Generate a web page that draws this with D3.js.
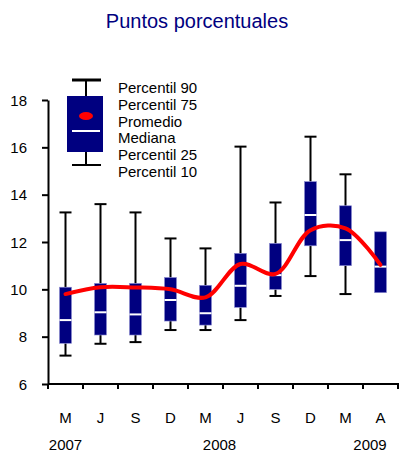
<!DOCTYPE html>
<html lang="es">
<head>
<meta charset="UTF-8">
<title>Puntos porcentuales</title>
<script src="https://d3js.org/d3.v7.min.js"></script>
<style>
    body { margin: 0; background: #fff; }
    svg { display: block; font-family: "Liberation Sans", Arial, sans-serif; }
    .axis path, .axis line { stroke: #000; stroke-width: 2px; }
    .axis text { font-size: 15px; fill: #000; }
</style>
</head>
<body>
<svg width="399" height="454"></svg>
<script>
// data
const months = ["M", "J", "S", "D", "M", "J", "S", "D", "M", "A"];
const years = [{ label: "2007", at: 0.5 }, { label: "2008", at: 4.9 }, { label: "2009", at: 9.2 }];
const p90 = [13.25, 13.6, 13.25, 12.15, 11.73, 16.03, 13.67, 16.45, 14.86, null];
const p75 = [10.09, 10.25, 10.25, 10.5, 10.17, 11.52, 11.94, 14.55, 13.53, 12.43];
const median = [8.7, 9.03, 8.94, 9.55, 8.99, 10.15, 10.6, 13.14, 12.08, 10.96];
const p25 = [7.72, 8.07, 8.07, 8.66, 8.49, 9.24, 10.0, 11.84, 11.0, 9.86];
const p10 = [7.2, 7.7, 7.77, 8.28, 8.28, 8.7, 9.72, 10.56, 9.8, null];
const mean = [9.8, 10.09, 10.08, 10.0, 9.66, 11.07, 10.65, 12.5, 12.58, 11.03];
const yTicks = [6, 8, 10, 12, 14, 16, 18];
const legendLabels = ["Percentil 90", "Percentil 75", "Promedio", "Mediana", "Percentil 25", "Percentil 10"];

const navy = "#000080";
const svg = d3.select("svg");

const x = d3.scaleBand().domain(d3.range(months.length)).range([48, 398]);
const y = d3.scaleLinear().domain([6, 18]).range([384, 100]);
const bw = 12;

// title
svg.append("text")
    .attr("x", 197).attr("y", 28)
    .attr("text-anchor", "middle")
    .attr("font-size", 20)
    .attr("fill", navy)
    .text("Puntos porcentuales");

// y axis
const yAxis = svg.append("g").attr("class", "axis")
    .attr("transform", "translate(48,0)")
    .call(d3.axisLeft(y).tickValues(yTicks).tickSize(6).tickSizeOuter(0).tickPadding(15));
yAxis.selectAll("text").attr("dy", "0.35em");

// x axis: ticks at band edges
const xAxis = svg.append("g").attr("class", "axis").attr("transform", "translate(0,384)");
xAxis.append("line").attr("x1", 48).attr("x2", 399).attr("y1", 0).attr("y2", 0);
xAxis.selectAll(".tk").data(d3.range(months.length + 1)).enter().append("line")
    .attr("x1", i => i < months.length ? x(i) : x.range()[1])
    .attr("x2", i => i < months.length ? x(i) : x.range()[1])
    .attr("y1", 0).attr("y2", 5);
xAxis.selectAll(".mlab").data(months).enter().append("text")
    .attr("x", (d, i) => x(i) + x.bandwidth() / 2)
    .attr("y", 39)
    .attr("text-anchor", "middle")
    .text(d => d);
xAxis.selectAll(".ylab").data(years).enter().append("text")
    .attr("x", d => x(0) + x.step() * d.at)
    .attr("y", 66)
    .attr("text-anchor", "middle")
    .text(d => d.label);

// boxes
const boxes = svg.append("g").selectAll("g").data(months).enter().append("g")
    .attr("transform", (d, i) => `translate(${x(i) + x.bandwidth() / 2},0)`);

boxes.filter((d, i) => p90[i] != null).each(function (d, i) {
    const g = d3.select(this);
    g.append("line").attr("x1", 0).attr("x2", 0).attr("y1", y(p90[i])).attr("y2", y(p75[i]))
        .attr("stroke", "#000").attr("stroke-width", 2);
    g.append("line").attr("x1", -bw / 2).attr("x2", bw / 2).attr("y1", y(p90[i])).attr("y2", y(p90[i]))
        .attr("stroke", "#000").attr("stroke-width", 2);
    g.append("line").attr("x1", 0).attr("x2", 0).attr("y1", y(p25[i])).attr("y2", y(p10[i]))
        .attr("stroke", "#000").attr("stroke-width", 2);
    g.append("line").attr("x1", -bw / 2).attr("x2", bw / 2).attr("y1", y(p10[i])).attr("y2", y(p10[i]))
        .attr("stroke", "#000").attr("stroke-width", 2);
});

boxes.append("rect")
    .attr("x", -bw / 2).attr("width", bw)
    .attr("y", (d, i) => y(p75[i]))
    .attr("height", (d, i) => y(p25[i]) - y(p75[i]))
    .attr("fill", navy)
    .attr("stroke", "#8a8ad0").attr("stroke-width", 0.6);

boxes.append("line")
    .attr("x1", -bw / 2).attr("x2", bw / 2)
    .attr("y1", (d, i) => y(median[i])).attr("y2", (d, i) => y(median[i]))
    .attr("stroke", "#fff").attr("stroke-width", 2);

// mean line
const line = d3.line()
    .x((d, i) => x(i) + x.bandwidth() / 2)
    .y(d => y(d))
    .curve(d3.curveCatmullRom.alpha(0.5));
svg.append("path").datum(mean)
    .attr("d", line)
    .attr("fill", "none")
    .attr("stroke", "#f00")
    .attr("stroke-width", 4)
    .attr("stroke-linecap", "round");

// legend
const lg = svg.append("g");
const lx = 86;
lg.append("line").attr("x1", lx).attr("x2", lx).attr("y1", 80).attr("y2", 165).attr("stroke", "#000").attr("stroke-width", 2);
lg.append("line").attr("x1", 72).attr("x2", 101).attr("y1", 80).attr("y2", 80).attr("stroke", "#000").attr("stroke-width", 3);
lg.append("line").attr("x1", 72).attr("x2", 101).attr("y1", 165).attr("y2", 165).attr("stroke", "#000").attr("stroke-width", 2);
lg.append("rect").attr("x", 67).attr("y", 96).attr("width", 36).attr("height", 56).attr("fill", navy);
lg.append("ellipse").attr("cx", lx).attr("cy", 116).attr("rx", 7).attr("ry", 4).attr("fill", "#f00");
lg.append("line").attr("x1", 72).attr("x2", 100).attr("y1", 131).attr("y2", 131).attr("stroke", "#fff").attr("stroke-width", 2);
lg.selectAll("text").data(legendLabels).enter().append("text")
    .attr("x", 118)
    .attr("y", (d, i) => 93 + i * 16.8)
    .attr("font-size", 15)
    .text(d => d);
</script>
</body>
</html>
